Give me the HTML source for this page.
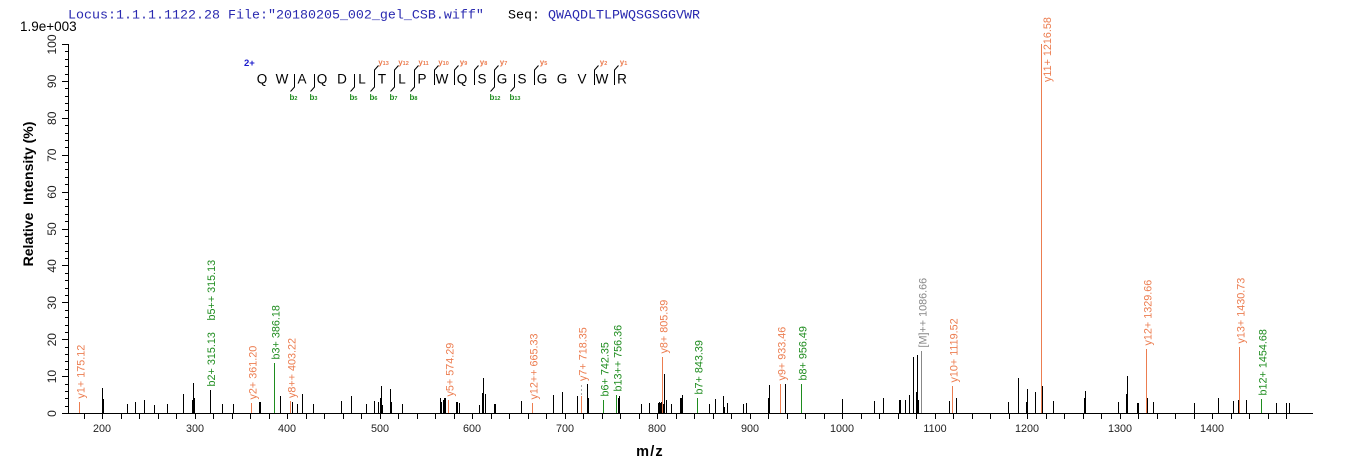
<!DOCTYPE html>
<html><head><meta charset="utf-8"><style>
html,body{margin:0;padding:0;background:#fff;}
svg{display:block;}
</style></head><body>
<svg width="1362" height="473" viewBox="0 0 1362 473" xmlns="http://www.w3.org/2000/svg" font-family="'Liberation Sans', Arial, sans-serif">
<rect width="1362" height="473" fill="#fff"/>
<!-- header -->
<text x="68" y="18.5" font-family="'Liberation Mono', monospace" font-size="13.33" fill="#2a2ab0">Locus:1.1.1.1122.28 File:"20180205_002_gel_CSB.wiff"</text>
<text x="508" y="18.5" font-family="'Liberation Mono', monospace" font-size="13.33" fill="#000">Seq:</text>
<text x="548" y="18.5" font-family="'Liberation Mono', monospace" font-size="13.33" fill="#2a2ab0">QWAQDLTLPWQSGSGGVWR</text>
<text x="20" y="31" font-size="13.5" fill="#000">1.9e+003</text>

<!-- axes -->
<g stroke="#000" stroke-width="1" shape-rendering="crispEdges" fill="none">
<path d="M68.5 44V414M68 413.5H1313"/>
<!-- y major ticks -->
<path d="M62 413.5H68M62 376.5H68M62 339.5H68M62 302.5H68M62 265.5H68M62 229.5H68M62 192.5H68M62 155.5H68M62 118.5H68M62 81.5H68M62 44.5H68"/>
<!-- y minor ticks -->
<path d="M65 406.5H68M65 398.5H68M65 391.5H68M65 384.5H68M65 369.5H68M65 361.5H68M65 354.5H68M65 347.5H68M65 332.5H68M65 325.5H68M65 317.5H68M65 310.5H68M65 295.5H68M65 288.5H68M65 280.5H68M65 273.5H68M65 258.5H68M65 251.5H68M65 243.5H68M65 236.5H68M65 221.5H68M65 214.5H68M65 206.5H68M65 199.5H68M65 184.5H68M65 177.5H68M65 169.5H68M65 162.5H68M65 147.5H68M65 140.5H68M65 133.5H68M65 125.5H68M65 110.5H68M65 103.5H68M65 96.5H68M65 88.5H68M65 74.5H68M65 66.5H68M65 59.5H68M65 51.5H68"/>
<!-- x ticks -->
<path d="M84.5 414V419M102.5 414V419M121.5 414V419M139.5 414V419M158.5 414V419M176.5 414V419M195.5 414V419M213.5 414V419M232.5 414V419M250.5 414V419M269.5 414V419M287.5 414V419M306.5 414V419M324.5 414V419M343.5 414V419M361.5 414V419M380.5 414V419M398.5 414V419M417.5 414V419M435.5 414V419M454.5 414V419M472.5 414V419M491.5 414V419M509.5 414V419M528.5 414V419M546.5 414V419M565.5 414V419M583.5 414V419M602.5 414V419M620.5 414V419M639.5 414V419M657.5 414V419M676.5 414V419M694.5 414V419M713.5 414V419M731.5 414V419M750.5 414V419M768.5 414V419M787.5 414V419M805.5 414V419M824.5 414V419M842.5 414V419M861.5 414V419M879.5 414V419M898.5 414V419M916.5 414V419M935.5 414V419M953.5 414V419M972.5 414V419M990.5 414V419M1009.5 414V419M1027.5 414V419M1046.5 414V419M1064.5 414V419M1083.5 414V419M1101.5 414V419M1120.5 414V419M1138.5 414V419M1157.5 414V419M1175.5 414V419M1194.5 414V419M1212.5 414V419M1231.5 414V419M1249.5 414V419M1268.5 414V419M1286.5 414V419"/>
</g>

<!-- x labels -->
<g font-size="10.8" fill="#222" text-anchor="middle">
<text x="102" y="432">200</text><text x="195" y="432">300</text><text x="287" y="432">400</text><text x="380" y="432">500</text><text x="472" y="432">600</text><text x="565" y="432">700</text><text x="657" y="432">800</text><text x="750" y="432">900</text><text x="842" y="432">1000</text><text x="935" y="432">1100</text><text x="1027" y="432">1200</text><text x="1120" y="432">1300</text><text x="1212" y="432">1400</text>
</g>
<!-- y labels -->
<g font-size="12" fill="#222" text-anchor="middle">
<text transform="translate(56,413.5) rotate(-90)">0</text>
<text transform="translate(56,376.6) rotate(-90)">10</text>
<text transform="translate(56,339.7) rotate(-90)">20</text>
<text transform="translate(56,302.8) rotate(-90)">30</text>
<text transform="translate(56,265.9) rotate(-90)">40</text>
<text transform="translate(56,229) rotate(-90)">50</text>
<text transform="translate(56,192.1) rotate(-90)">60</text>
<text transform="translate(56,155.2) rotate(-90)">70</text>
<text transform="translate(56,118.3) rotate(-90)">80</text>
<text transform="translate(56,81.4) rotate(-90)">90</text>
<text transform="translate(56,44.5) rotate(-90)">100</text>
</g>
<text transform="translate(33,194) rotate(-90)" font-size="14" font-weight="bold" text-anchor="middle" fill="#000" style="white-space:pre">Relative  Intensity (%)</text>
<text x="650" y="456" font-size="14.5" font-weight="bold" text-anchor="middle" letter-spacing="1.2" fill="#000">m/z</text>

<!-- black peaks -->
<path stroke="#000" stroke-width="1" shape-rendering="crispEdges" fill="none" d="M102.5 388V413M103.5 399V413M127.5 404V413M135.5 402V413M144.5 400V413M154.5 405V413M167.5 404V413M183.5 394V413M192.5 400V413M193.5 383V413M194.5 398V413M210.5 390V413M222.5 404V413M233.5 404V413M259.5 402V413M260.5 402V413M280.5 396V413M292.5 402V413M297.5 404V413M302.5 394V413M313.5 404V413M341.5 401V413M351.5 396V413M366.5 404V413M374.5 401V413M378.5 402V413M380.5 398V413M381.5 386V413M382.5 405V413M390.5 389V413M391.5 402V413M402.5 404V413M440.5 398V413M441.5 402V413M443.5 400V413M444.5 398V413M445.5 398V413M456.5 402V413M457.5 402V413M459.5 403V413M479.5 405V413M482.5 393V413M483.5 378V413M485.5 394V413M494.5 404V413M495.5 404V413M521.5 401V413M553.5 395V413M562.5 392V413M577.5 396V413M587.5 384V413M588.5 398V413M618.5 398V413M619.5 396V413M641.5 404V413M649.5 403V413M658.5 403V413M659.5 402V413M660.5 403V413M661.5 402V413M663.5 404V413M664.5 374V413M666.5 400V413M671.5 404V413M680.5 398V413M681.5 398V413M682.5 395V413M709.5 404V413M715.5 399V413M723.5 396V413M724.5 407V413M727.5 403V413M743.5 404V413M746.5 403V413M768.5 398V413M769.5 385V413M785.5 384V413M842.5 399V413M874.5 401V413M883.5 398V413M899.5 400V413M900.5 400V413M905.5 400V413M909.5 395V413M913.5 357V413M916.5 392V413M917.5 355V413M918.5 400V413M949.5 401V413M956.5 398V413M1008.5 402V413M1018.5 378V413M1026.5 402V413M1027.5 389V413M1035.5 392V413M1042.5 386V413M1053.5 401V413M1084.5 398V413M1085.5 391V413M1118.5 402V413M1126.5 394V413M1127.5 376V413M1137.5 403V413M1138.5 403V413M1147.5 398V413M1153.5 402V413M1194.5 403V413M1218.5 398V413M1233.5 401V413M1238.5 400V413M1246.5 400V413M1276.5 403V413M1286.5 403V413M1289.5 403V413"/>

<!-- orange labelled peaks -->
<path stroke="#ec7d50" stroke-width="1" shape-rendering="crispEdges" fill="none" d="M79.5 402V413M251.5 403V413M290.5 401V413M448.5 400V413M532.5 403V413M581.5 396V413M662.5 357V413M780.5 384V413M952.5 386V413M1041.5 44V413M1146.5 349V413M1239.5 347V413"/>
<!-- green labelled peaks -->
<path stroke="#1e8c1e" stroke-width="1" shape-rendering="crispEdges" fill="none" d="M274.5 363V413M603.5 400V413M616.5 395V413M697.5 398V413M801.5 384V413M1261.5 399V413"/>
<!-- gray -->
<path stroke="#888" stroke-width="1" shape-rendering="crispEdges" fill="none" d="M921.5 351V413"/>
<path stroke="#aaa" stroke-width="1" stroke-dasharray="2,2" shape-rendering="crispEdges" fill="none" d="M581.5 385V396"/>

<!-- peak labels -->
<g font-size="10.8" fill="#ec7d50">
<text transform="translate(84.5,398.5) rotate(-90)">y1+ 175.12</text>
<text transform="translate(256.5,399.5) rotate(-90)">y2+ 361.20</text>
<text transform="translate(295.5,398) rotate(-90)">y8++ 403.22</text>
<text transform="translate(453.5,396.5) rotate(-90)">y5+ 574.29</text>
<text transform="translate(537.5,399.5) rotate(-90)">y12++ 665.33</text>
<text transform="translate(586.5,381) rotate(-90)">y7+ 718.35</text>
<text transform="translate(667.5,353.5) rotate(-90)">y8+ 805.39</text>
<text transform="translate(785.5,380.5) rotate(-90)">y9+ 933.46</text>
<text transform="translate(957.5,382.5) rotate(-90)">y10+ 1119.52</text>
<text transform="translate(1051,82) rotate(-90)">y11+ 1216.58</text>
<text transform="translate(1151.5,345.5) rotate(-90)">y12+ 1329.66</text>
<text transform="translate(1244.5,343.5) rotate(-90)">y13+ 1430.73</text>
</g>
<g font-size="10.8" fill="#1e8c1e">
<text transform="translate(215,386.5) rotate(-90)">b2+ 315.13</text>
<text transform="translate(215,320.5) rotate(-90)">b5++ 315.13</text>
<text transform="translate(279.5,359.5) rotate(-90)">b3+ 386.18</text>
<text transform="translate(608.5,396.5) rotate(-90)">b6+ 742.35</text>
<text transform="translate(621.5,391.5) rotate(-90)">b13++ 756.36</text>
<text transform="translate(702.5,394.5) rotate(-90)">b7+ 843.39</text>
<text transform="translate(806.5,380.5) rotate(-90)">b8+ 956.49</text>
<text transform="translate(1266.5,395.5) rotate(-90)">b12+ 1454.68</text>
</g>
<text transform="translate(926.5,347.5) rotate(-90)" font-size="10.8" fill="#888">[M]++ 1086.66</text>

<!-- sequence diagram -->
<text x="244" y="66" font-size="9.5" font-weight="bold" fill="#1a1acc">2+</text>
<g font-size="13.5" fill="#000" text-anchor="middle">
<text x="262" y="83.5">Q</text><text x="282" y="83.5">W</text><text x="302" y="83.5">A</text><text x="322" y="83.5">Q</text><text x="342" y="83.5">D</text><text x="362" y="83.5">L</text><text x="382" y="83.5">T</text><text x="402" y="83.5">L</text><text x="422" y="83.5">P</text><text x="442" y="83.5">W</text><text x="462" y="83.5">Q</text><text x="482" y="83.5">S</text><text x="502" y="83.5">G</text><text x="522" y="83.5">S</text><text x="542" y="83.5">G</text><text x="562" y="83.5">G</text><text x="582" y="83.5">V</text><text x="602" y="83.5">W</text><text x="622" y="83.5">R</text>
</g>
<g stroke="#000" stroke-width="1" fill="none">
<!-- b-only -->
<path d="M294.5 74V87L290.5 91.5M314.5 74V87L310.5 91.5M354.5 74V87L350.5 91.5M514.5 74V87L510.5 91.5"/>
<!-- both -->
<path d="M378.5 65.5L374.5 70V87L370.5 91.5M398.5 65.5L394.5 70V87L390.5 91.5M418.5 65.5L414.5 70V87L410.5 91.5M498.5 65.5L494.5 70V87L490.5 91.5"/>
<!-- y-only -->
<path d="M438.5 65.5L434.5 70V85M458.5 65.5L454.5 70V85M478.5 65.5L474.5 70V85M538.5 65.5L534.5 70V85M598.5 65.5L594.5 70V85M618.5 65.5L614.5 70V85"/>
</g>
<g font-size="8" font-weight="bold" fill="#ec7d50" text-anchor="middle">
<text x="383.5" y="65">y<tspan font-size="5.5">13</tspan></text>
<text x="403.5" y="65">y<tspan font-size="5.5">12</tspan></text>
<text x="423.5" y="65">y<tspan font-size="5.5">11</tspan></text>
<text x="443.5" y="65">y<tspan font-size="5.5">10</tspan></text>
<text x="463.5" y="65">y<tspan font-size="5.5">9</tspan></text>
<text x="483.5" y="65">y<tspan font-size="5.5">8</tspan></text>
<text x="503.5" y="65">y<tspan font-size="5.5">7</tspan></text>
<text x="543.5" y="65">y<tspan font-size="5.5">5</tspan></text>
<text x="603.5" y="65">y<tspan font-size="5.5">2</tspan></text>
<text x="623.5" y="65">y<tspan font-size="5.5">1</tspan></text>
</g>
<g font-size="8" font-weight="bold" fill="#1e8c1e" text-anchor="middle">
<text x="293.5" y="100">b<tspan font-size="5.5">2</tspan></text>
<text x="313.5" y="100">b<tspan font-size="5.5">3</tspan></text>
<text x="353.5" y="100">b<tspan font-size="5.5">5</tspan></text>
<text x="373.5" y="100">b<tspan font-size="5.5">6</tspan></text>
<text x="393.5" y="100">b<tspan font-size="5.5">7</tspan></text>
<text x="413.5" y="100">b<tspan font-size="5.5">8</tspan></text>
<text x="495" y="100">b<tspan font-size="5.5">12</tspan></text>
<text x="515" y="100">b<tspan font-size="5.5">13</tspan></text>
</g>
</svg>
</body></html>
